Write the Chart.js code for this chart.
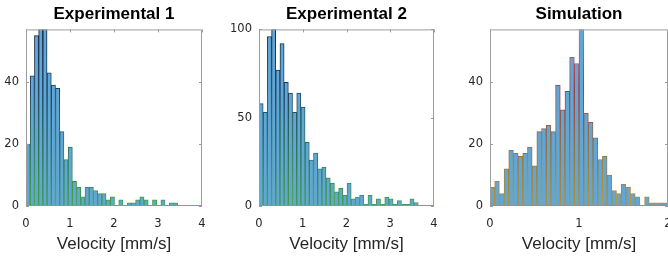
<!DOCTYPE html>
<html>
<head>
<meta charset="utf-8">
<script src="https://cdn.jsdelivr.net/npm/chart.js@4.4.1/dist/chart.umd.min.js"></script>
<style>
  html, body { margin: 0; padding: 0; background: #fff; }
  body { width: 668px; height: 260px; position: relative; overflow: hidden; }
  canvas { position: absolute; top: 0; }
</style>
</head>
<body>
<canvas id="exp1" width="206" height="260" style="left:0px"></canvas>
<canvas id="exp2" width="212" height="260" style="left:226px"></canvas>
<canvas id="sim" width="217" height="260" style="left:455px"></canvas>
<script>
// Histogram counts (one entry per bin)
const exp1Counts = [20, 42, 55, 62, 60, 43, 39, 38, 24, 15, 19, 8, 6, 3, 6, 6, 5, 4, 4, 2, 3, 0, 2, 0, 1, 1, 2, 3, 2, 0, 2, 0, 2, 0, 1, 1];
const exp2Counts = [58, 53, 96, 100, 77, 92, 70, 64, 53, 64, 56, 36, 26, 30, 21, 22, 16, 13, 8, 10, 6, 13, 4, 5, 6, 1, 6, 1, 4, 1, 5, 4, 1, 3, 1, 1, 4, 2];
const simCounts = [6, 8, 4, 12, 18, 17, 16, 17, 19, 13, 24, 25, 26, 24, 39, 31, 37, 48, 46, 57, 30, 27, 22, 15, 16, 10, 5, 4, 7, 6, 4, 3, 0, 3, 1, 1, 1, 1];

// Bin widths (mm/s)
const expBinWidth = 0.0958;
const simBinWidth = 2 / 38;

// Axis ticks and limits
const expXTicks = [0, 1, 2, 3, 4];
const simXTicks = [0, 1, 2];
const exp1YTicks = [0, 20, 40];
const exp2YTicks = [0, 50, 100];
const simYTicks = [0, 20, 40];
const exp1YMax = 57;
const exp2YMax = 100;
const simYMax = 57;

const titles = ['Experimental 1', 'Experimental 2', 'Simulation'];
const xLabel = 'Velocity [mm/s]';

const barFill = '#5ea7d8';
const expEdges = ['#45a040', '#2e7058', '#20405e', '#1a2238'];
const simEdges = ['#b8902e', '#9a6e3a', '#a83a3c', '#e26464'];

Chart.defaults.font.family = '"Liberation Sans", Arial, sans-serif';

// Edge colour changes with height, like the reference
function edgeGradient(stops) {
  return (ctx) => {
    const area = ctx.chart.chartArea;
    if (!area) return stops[0];
    const g = ctx.chart.ctx.createLinearGradient(0, area.bottom, 0, area.top);
    stops.forEach((c, i) => g.addColorStop(i / (stops.length - 1), c));
    return g;
  };
}

// Axes box with small inward ticks (matlab style)
const boxPlugin = {
  id: 'box',
  afterDatasetsDraw(chart, args, opts) {
    const { ctx, chartArea: a, scales: { x, y } } = chart;
    ctx.save();
    ctx.lineWidth = 1;
    ctx.strokeStyle = '#9c9c9c';
    ctx.beginPath();
    ctx.moveTo(a.left + 0.5, a.bottom);
    ctx.lineTo(a.left + 0.5, a.top + 0.5);
    ctx.lineTo(a.right - 0.5, a.top + 0.5);
    ctx.lineTo(a.right - 0.5, a.bottom);
    const len = 3;
    x.ticks.forEach(t => {
      const px = Math.round(x.getPixelForValue(t.value)) + 0.5;
      ctx.moveTo(px, a.top); ctx.lineTo(px, a.top + len);
    });
    y.ticks.forEach(t => {
      const py = Math.round(y.getPixelForValue(t.value)) + 0.5;
      ctx.moveTo(a.right, py); ctx.lineTo(a.right - len, py);
      ctx.moveTo(a.left, py); ctx.lineTo(a.left + len, py);
    });
    ctx.stroke();
    // baseline
    ctx.strokeStyle = opts.base;
    ctx.beginPath();
    ctx.moveTo(a.left, a.bottom - 0.5);
    ctx.lineTo(a.right, a.bottom - 0.5);
    ctx.stroke();
    ctx.restore();
  }
};

function makeHist(id, cfg) {
  const points = cfg.counts.map((c, i) => ({ x: (i + 0.5) * cfg.binWidth, y: c }));
  return new Chart(document.getElementById(id), {
    type: 'bar',
    data: {
      datasets: [{
        data: points,
        backgroundColor: barFill,
        borderColor: edgeGradient(cfg.edges),
        borderWidth: 1,
        borderSkipped: 'bottom',
        barPercentage: 1,
        categoryPercentage: 1,
        clip: 0
      }]
    },
    options: {
      responsive: false,
      animation: false,
      layout: { padding: { right: 4 } },
      plugins: {
        legend: { display: false },
        tooltip: { enabled: false },
        title: {
          display: true,
          fullSize: false,
          text: cfg.title,
          color: '#000',
          font: { size: 17, weight: 'bold' },
          padding: { top: 4, bottom: 5 }
        },
        box: { base: cfg.base }
      },
      scales: {
        x: {
          type: 'linear',
          min: 0,
          max: cfg.xMax,
          offset: false,
          grid: { display: false, drawTicks: false, offset: false },
          border: { display: false },
          afterBuildTicks: s => { s.ticks = cfg.xTicks.map(v => ({ value: v })); },
          afterFit: s => { s.height = 54; s.paddingLeft = 0; s.paddingRight = 0; },
          ticks: { padding: 11, color: '#262626', font: { family: '"DejaVu Sans"', size: 11.5 }, maxRotation: 0 },
          title: { display: true, text: xLabel, color: '#262626', font: { size: 17 }, padding: { top: 0, bottom: 5 } }
        },
        y: {
          min: 0,
          max: cfg.yMax,
          grid: { display: false, drawTicks: false },
          border: { display: false },
          afterBuildTicks: s => { s.ticks = cfg.yTicks.map(v => ({ value: v })); },
          afterFit: s => { s.width = cfg.yWidth; s.paddingTop = 0; s.paddingBottom = 0; },
          ticks: { padding: 7, color: '#262626', font: { family: '"DejaVu Sans"', size: 11.5 } }
        }
      }
    },
    plugins: [boxPlugin]
  });
}

makeHist('exp1', { title: titles[0], counts: exp1Counts, binWidth: expBinWidth, xMax: 4, xTicks: expXTicks, yMax: exp1YMax, yTicks: exp1YTicks, yWidth: 26, edges: expEdges, base: '#6cae5c' });
makeHist('exp2', { title: titles[1], counts: exp2Counts, binWidth: expBinWidth, xMax: 4, xTicks: expXTicks, yMax: exp2YMax, yTicks: exp2YTicks, yWidth: 33, edges: expEdges, base: '#6cae5c' });
makeHist('sim', { title: titles[2], counts: simCounts, binWidth: simBinWidth, xMax: 2, xTicks: simXTicks, yMax: simYMax, yTicks: simYTicks, yWidth: 35, edges: simEdges, base: '#8f8f8f' });
</script>
</body>
</html>
